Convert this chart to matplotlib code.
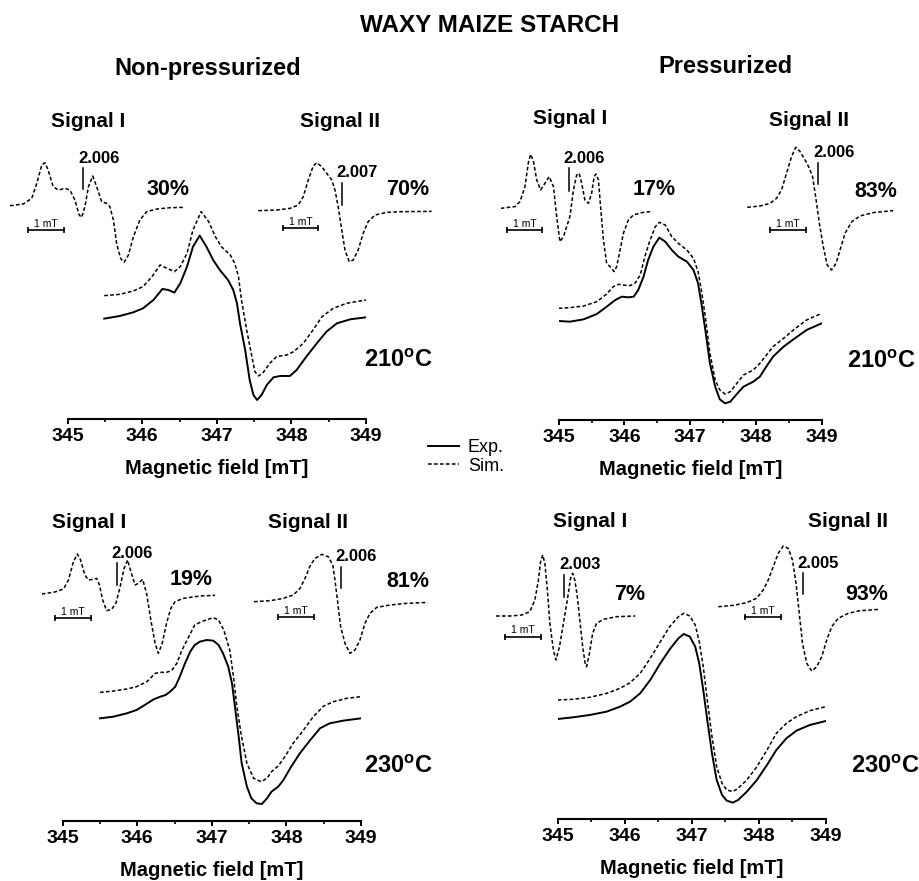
import numpy as np
import matplotlib
matplotlib.use('Agg')
import matplotlib.pyplot as plt

plt.rcParams['font.family'] = ['Liberation Sans', 'DejaVu Sans']
plt.rcParams['font.weight'] = 'bold'
plt.rcParams['mathtext.fontset'] = 'custom'
plt.rcParams['mathtext.rm'] = 'Liberation Sans:bold'
plt.rcParams['mathtext.bf'] = 'Liberation Sans:bold'
plt.rcParams['mathtext.it'] = 'Liberation Sans:bold'

# ---- main spectra (field in mT, intensity in a.u.) ----
# non-pressurized, 210 C
p1_exp_x = [345.49, 345.70, 345.88, 346.01, 346.15, 346.27, 346.35, 346.43, 346.51, 346.60,
            346.68, 346.77, 346.86, 346.95, 347.04, 347.15, 347.22, 347.27, 347.31, 347.38,
            347.44, 347.49, 347.54, 347.60, 347.67, 347.76, 347.85, 347.98, 348.07, 348.20,
            348.34, 348.47, 348.61, 348.79, 349.00]
p1_exp_y = [302, 310, 321, 333, 358, 391, 388, 380, 408, 458, 518, 551, 518, 478, 448, 418,
            388, 348, 288, 208, 118, 73, 58, 73, 103, 126, 130, 130, 148, 188, 228, 263, 288,
            300, 306]
p1_sim_x = [345.49, 345.70, 345.88, 346.01, 346.13, 346.24, 346.33, 346.43, 346.51, 346.60,
            346.68, 346.79, 346.89, 346.98, 347.06, 347.18, 347.24, 347.29, 347.33, 347.40,
            347.47, 347.51, 347.56, 347.62, 347.71, 347.80, 347.94, 348.03, 348.16, 348.29,
            348.41, 348.56, 348.74, 349.00]
p1_sim_y = [371, 375, 385, 398, 428, 463, 453, 443, 458, 498, 568, 623, 593, 548, 518, 493,
            468, 428, 358, 268, 188, 143, 130, 140, 168, 188, 193, 203, 228, 268, 308, 333,
            348, 358]

# pressurized, 210 C
p2_exp_x = [345.00, 345.17, 345.38, 345.58, 345.73, 345.86, 345.96, 346.06, 346.14, 346.21,
            346.29, 346.36, 346.44, 346.53, 346.62, 346.72, 346.82, 346.95, 347.05, 347.12,
            347.17, 347.23, 347.30, 347.38, 347.45, 347.53, 347.61, 347.71, 347.81, 347.96,
            348.06, 348.14, 348.26, 348.42, 348.57, 348.77, 349.00]
p2_exp_y = [297, 295, 302, 318, 340, 360, 370, 368, 370, 390, 430, 480, 520, 547, 535, 510,
            490, 475, 450, 410, 350, 270, 170, 100, 62, 50, 55, 78, 100, 115, 130, 155, 190,
            220, 242, 270, 290]
p2_sim_x = [345.00, 345.17, 345.38, 345.58, 345.73, 345.83, 345.91, 345.98, 346.08, 346.16,
            346.24, 346.31, 346.39, 346.47, 346.53, 346.62, 346.72, 346.82, 346.95, 347.05,
            347.12, 347.17, 347.23, 347.30, 347.38, 347.45, 347.53, 347.61, 347.71, 347.81,
            347.96, 348.06, 348.14, 348.26, 348.42, 348.57, 348.77, 349.00]
p2_sim_y = [335, 337, 342, 355, 378, 400, 407, 405, 403, 410, 435, 490, 540, 580, 593, 585,
            550, 530, 510, 485, 445, 390, 310, 200, 120, 90, 78, 85, 110, 135, 150, 170, 190,
            220, 245, 270, 300, 320]

# non-pressurized, 230 C
p3_exp_x = [345.50, 345.68, 345.86, 345.99, 346.10, 346.22, 346.31, 346.38, 346.44, 346.51,
            346.57, 346.64, 346.71, 346.77, 346.84, 346.93, 347.02, 347.09, 347.15, 347.22,
            347.27, 347.31, 347.36, 347.40, 347.47, 347.53, 347.60, 347.67, 347.74, 347.80,
            347.89, 347.96, 348.05, 348.18, 348.32, 348.45, 348.58, 348.76, 349.00]
p3_exp_y = [308, 313, 323, 333, 348, 365, 373, 378, 388, 403, 433, 473, 508, 528, 538, 543,
            541, 528, 503, 463, 413, 343, 253, 173, 103, 68, 53, 51, 68, 88, 103, 123, 158,
            203, 243, 278, 293, 301, 308]
p3_sim_x = [345.50, 345.68, 345.86, 345.99, 346.13, 346.24, 346.31, 346.39, 346.46, 346.53,
            346.60, 346.68, 346.77, 346.86, 346.95, 347.02, 347.09, 347.16, 347.24, 347.29,
            347.33, 347.39, 347.47, 347.56, 347.66, 347.74, 347.80, 347.89, 347.98, 348.09,
            348.23, 348.36, 348.50, 348.63, 348.81, 349.00]
p3_sim_y = [386, 390, 396, 403, 418, 443, 446, 446, 451, 473, 513, 548, 588, 598, 605, 610,
            603, 573, 513, 433, 353, 263, 173, 128, 118, 128, 148, 165, 193, 233, 273, 313,
            345, 358, 368, 373]

# pressurized, 230 C
p4_x = [345.00, 345.23, 345.48, 345.73, 345.93, 346.08, 346.23, 346.38, 346.53, 346.67,
        346.80, 346.88, 346.97, 347.05, 347.11, 347.17, 347.23, 347.30, 347.37, 347.45,
        347.52, 347.61, 347.69, 347.82, 347.97, 348.12, 348.26, 348.41, 348.56, 348.76,
        349.00]
p4_exp_y = [301, 306, 313, 323, 338, 353, 378, 418, 468, 510, 543, 556, 548, 518, 468, 388,
            298, 198, 118, 73, 56, 50, 58, 83, 118, 163, 208, 243, 266, 283, 295]
p4_sim_y = [358, 360, 366, 378, 393, 410, 438, 483, 533, 578, 608, 618, 610, 583, 533, 458,
            358, 248, 158, 108, 88, 83, 93, 118, 158, 208, 258, 288, 308, 326, 338]

# ---- simulated components (relative field in mT, intensity a.u.) ----
p1_s1_x = [0.00, 0.37, 0.61, 0.75, 0.89, 0.98, 1.07, 1.21, 1.36, 1.54, 1.68, 1.82, 1.94, 2.01,
           2.10, 2.20, 2.32, 2.43, 2.57, 2.71, 2.80, 2.90, 2.99, 3.10, 3.20, 3.32, 3.46, 3.64,
           3.83, 4.11, 4.49, 4.86]
p1_s1_y = [3, 8, 25, 70, 125, 132, 110, 60, 50, 55, 50, 20, -25, -32, 0, 60, 92, 60, 15, 10,
           0, -40, -110, -155, -167, -145, -90, -40, -15, -7, -3, -2]
p1_s2_x = [0.00, 0.51, 0.89, 1.12, 1.26, 1.40, 1.54, 1.64, 1.78, 1.92, 2.06, 2.15, 2.24, 2.34,
           2.43, 2.55, 2.66, 2.80, 2.94, 3.08, 3.27, 3.60, 3.97, 4.86]
p1_s2_y = [0, 2, 7, 17, 42, 92, 134, 144, 132, 112, 92, 62, 12, -58, -118, -153, -148, -118,
           -68, -33, -13, -5, -3, -2]

p2_s1_x = [0.00, 0.40, 0.54, 0.68, 0.78, 0.84, 0.92, 1.01, 1.12, 1.24, 1.36, 1.48, 1.57, 1.66,
           1.76, 1.85, 1.94, 2.04, 2.13, 2.20, 2.27, 2.36, 2.46, 2.55, 2.62, 2.67, 2.74, 2.80,
           2.88, 2.97, 3.08, 3.18, 3.25, 3.33, 3.44, 3.58, 3.72, 3.95, 4.19]
p2_s1_y = [0, 5, 20, 65, 140, 162, 140, 85, 55, 75, 95, 65, -25, -100, -85, -55, -25, 55, 100,
           105, 75, 25, 15, 45, 95, 103, 85, 5, -95, -165, -177, -190, -175, -135, -75, -35,
           -20, -13, -10]
p2_s2_x = [0.00, 0.36, 0.64, 0.82, 0.96, 1.10, 1.24, 1.36, 1.48, 1.62, 1.74, 1.83, 1.93, 2.02,
           2.13, 2.24, 2.36, 2.49, 2.60, 2.74, 2.93, 3.16, 3.53, 4.09]
p2_s2_y = [0, 4, 12, 27, 52, 102, 152, 180, 167, 142, 117, 92, 22, -48, -118, -173, -188,
           -168, -128, -78, -43, -26, -16, -10]

p3_s1_x = [0.00, 0.37, 0.61, 0.75, 0.89, 1.00, 1.09, 1.21, 1.31, 1.45, 1.54, 1.62, 1.71, 1.82,
           1.96, 2.08, 2.20, 2.31, 2.41, 2.50, 2.62, 2.71, 2.83, 2.94, 3.06, 3.18, 3.27, 3.38,
           3.50, 3.62, 3.74, 3.97, 4.44, 4.86]
p3_s1_y = [0, 6, 15, 42, 97, 120, 102, 57, 42, 44, 47, 27, -18, -50, -46, -28, 22, 77, 102,
           67, 27, 32, 44, 2, -78, -148, -178, -148, -88, -43, -23, -13, -6, -4]
p3_s2_x = [0.00, 0.45, 0.82, 1.10, 1.29, 1.43, 1.57, 1.71, 1.90, 2.08, 2.21, 2.27, 2.35, 2.43,
           2.55, 2.69, 2.83, 2.97, 3.11, 3.25, 3.44, 3.81, 4.28, 4.87]
p3_s2_y = [0, 3, 10, 20, 40, 70, 107, 130, 142, 135, 110, 65, -5, -75, -125, -155, -145,
           -115, -65, -35, -17, -10, -5, -2]

p4_s1_x = [0.00, 0.39, 0.72, 0.95, 1.09, 1.19, 1.25, 1.31, 1.37, 1.44, 1.51, 1.61, 1.68, 1.78,
           1.89, 2.00, 2.09, 2.15, 2.21, 2.28, 2.36, 2.43, 2.50, 2.54, 2.62, 2.71, 2.82, 3.01,
           3.38, 3.90]
p4_s1_y = [0, 0, 3, 13, 48, 108, 163, 183, 158, 78, -22, -102, -132, -92, -22, 48, 113, 128,
           108, 58, -22, -92, -142, -152, -112, -52, -22, -10, -2, 0]
p4_s2_x = [0.00, 0.42, 0.79, 1.07, 1.26, 1.40, 1.54, 1.68, 1.82, 1.96, 2.08, 2.18, 2.27, 2.36,
           2.48, 2.62, 2.76, 2.90, 3.04, 3.18, 3.36, 3.64, 3.97, 4.51]
p4_s2_y = [0, 4, 12, 25, 50, 80, 120, 160, 182, 175, 140, 70, -20, -110, -170, -193, -180,
           -150, -100, -60, -35, -20, -12, -8]

g_values = ['2.006', '2.007', '2.006', '2.006', '2.006', '2.006', '2.003', '2.005']
shares = ['30%', '70%', '17%', '83%', '19%', '81%', '7%', '93%']
temps = ['210', '210', '230', '230']

W, H = 919, 881
PX_PER_MT = 107 / 3
DASH = (0, (2.4, 1.5))

fig = plt.figure(figsize=(W / 100, H / 100), dpi=100)


def ftext(x, y, s, size, **kw):
    fig.text(x / W, 1 - y / H, s, fontsize=size, ha='center', va='baseline', **kw)


def main_panel(left, right, spine_y, exp_x, exp_y, sim_x, sim_y):
    ax = fig.add_axes([left / W, 1 - spine_y / H, (right - left) / W, 240 / H])
    ax.patch.set_visible(False)
    l_exp, = ax.plot(exp_x, exp_y, color='black', lw=1.4)
    l_sim, = ax.plot(sim_x, sim_y, color='black', lw=1.1, ls=DASH)
    ax.set_xlim(345, 349)
    ax.set_ylim(0, 720)
    for s in ['top', 'left', 'right']:
        ax.spines[s].set_visible(False)
    ax.spines['bottom'].set_linewidth(1.5)
    ax.set_yticks([])
    ax.set_xticks(range(345, 350))
    ax.set_xticks(np.arange(345.5, 349, 1), minor=True)
    ax.tick_params(axis='x', which='major', length=3.6, width=1.4, pad=3, labelsize=14)
    ax.tick_params(axis='x', which='minor', length=2.4, width=1.2)
    ftext((left + right) / 2, spine_y + 55, 'Magnetic field [mT]', 14.5)
    return l_exp, l_sim


def inset(ox, oy, xs, ys, bar_x, bar_y, g_x, g_lo, g_hi, g_text):
    ax = fig.add_axes([ox / W, 1 - (oy + 80) / H, 5.2 * PX_PER_MT / W, 160 / H])
    ax.set_xlim(0, 5.2)
    ax.set_ylim(-240, 240)
    ax.axis('off')
    ax.plot(xs, ys, color='black', lw=1.1, ls=DASH)
    ax.plot([g_x, g_x], [g_lo, g_hi], color='black', lw=1.1)
    ax.text(g_x + 0.43, g_hi + 17, g_text, fontsize=12, ha='center', va='baseline')
    ax.plot([bar_x, bar_x + 1], [bar_y, bar_y], color='black', lw=1.2,
            marker='|', ms=5, mew=1.2)
    ax.text(bar_x + 0.5, bar_y + 4, '1 mT', fontsize=7.5, fontweight='normal',
            ha='center', va='bottom')


# panels
l_exp, l_sim = main_panel(67.7, 366, 419.3, p1_exp_x, p1_exp_y, p1_sim_x, p1_sim_y)
main_panel(558.7, 821.7, 420, p2_exp_x, p2_exp_y, p2_sim_x, p2_sim_y)
main_panel(62.7, 361, 821, p3_exp_x, p3_exp_y, p3_sim_x, p3_sim_y)
main_panel(557.7, 826, 819.3, p4_x, p4_exp_y, p4_x, p4_sim_y)

inset(10, 206.7, p1_s1_x, p1_s1_y, 0.50, -70, 2.06, 52, 115, g_values[0])
inset(258.3, 210.7, p1_s2_x, p1_s2_y, 0.68, -53, 2.34, 17, 84, g_values[1])
inset(500.7, 208.3, p2_s1_x, p2_s1_y, 0.17, -65, 1.92, 53, 120, g_values[2])
inset(747.3, 207.3, p2_s2_x, p2_s2_y, 0.64, -68, 1.99, 70, 134, g_values[3])
inset(41.7, 594, p3_s1_x, p3_s1_y, 0.37, -73, 2.10, 27, 92, g_values[4])
inset(254, 601.7, p3_s2_x, p3_s2_y, 0.68, -47, 2.43, 40, 105, g_values[5])
inset(496, 616, p4_s1_x, p4_s1_y, 0.25, -62, 1.92, 58, 123, g_values[6])
inset(718.3, 606.7, p4_s2_x, p4_s2_y, 0.76, -32, 2.38, 38, 100, g_values[7])

# titles and labels
ftext(490, 32, 'WAXY MAIZE STARCH', 17.5)
ftext(207.5, 75, 'Non-pressurized', 17)
ftext(725.5, 73, 'Pressurized', 17)

for x, y, s in [(88, 126.7, 'Signal I'), (339.7, 126.7, 'Signal II'),
                (570.5, 124, 'Signal I'), (809, 126, 'Signal II'),
                (89, 528.3, 'Signal I'), (308, 528, 'Signal II'),
                (590, 526.7, 'Signal I'), (848, 527, 'Signal II')]:
    ftext(x, y, s, 15)

for (x, y), s in zip([(168, 195), (408, 195), (654, 195), (876, 196.7),
                      (191, 585), (408, 587), (630, 600), (867, 600)], shares):
    ftext(x, y, s, 15.5)

for (x, y), t in zip([(398, 366.7), (881.7, 368), (398, 772.7), (885, 772.7)], temps):
    ftext(x, y, t + r'$^{\rm o}$C', 17)

fig.legend([l_exp, l_sim], ['Exp.', 'Sim.'], loc='upper left',
           bbox_to_anchor=(428 / W, 1 - 439 / H), frameon=False,
           prop={'size': 13, 'weight': 'normal'}, handlelength=1.7,
           handletextpad=0.5, labelspacing=0.1, borderpad=0, borderaxespad=0)

fig.savefig('out.png', dpi=100)
